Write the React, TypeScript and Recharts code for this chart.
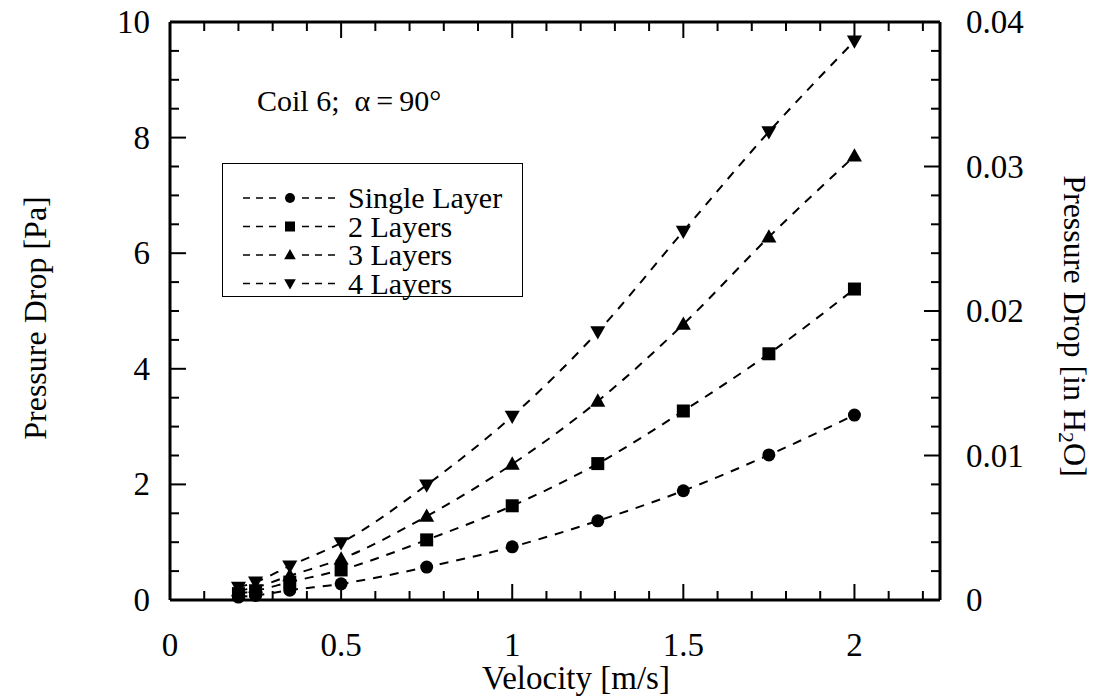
import { LineChart, Line, XAxis, YAxis, Legend } from "recharts";

const FONT = "'Liberation Serif', 'Times New Roman', serif";
const TICK_FS = 33;

// velocity [m/s] and pressure drop [Pa]
const velocity = [0.2, 0.25, 0.35, 0.5, 0.75, 1, 1.25, 1.5, 1.75, 2];
const singleLayer = [0.05, 0.08, 0.17, 0.28, 0.57, 0.92, 1.37, 1.89, 2.51, 3.2];
const twoLayers = [0.11, 0.16, 0.31, 0.52, 1.04, 1.63, 2.36, 3.27, 4.26, 5.38];
const threeLayers = [0.16, 0.22, 0.42, 0.71, 1.45, 2.35, 3.44, 4.77, 6.28, 7.68];
const fourLayers = [0.22, 0.31, 0.59, 0.99, 1.99, 3.18, 4.64, 6.38, 8.1, 9.67];

// tick labels (majors), minors drawn in between
const xLabels = ["0", "0.5", "1", "1.5", "2"];
const yLeftLabels = ["0", "2", "4", "6", "8", "10"];
const yRightLabels = ["0", "0.01", "0.02", "0.03", "0.04"];

const steps = (n: number, step: number, digits: number) =>
  Array.from({ length: n }, (_, i) => Number((i * step).toFixed(digits)));
const xTicks = steps(23, 0.1, 1); // major every 5th
const yLeftTicks = steps(21, 0.5, 1); // major every 4th
const yRightTicks = steps(21, 0.002, 3); // major every 5th

const data = velocity.map((v, i) => ({
  v,
  single: singleLayer[i],
  two: twoLayers[i],
  three: threeLayers[i],
  four: fourLayers[i],
}));

const MAJ = 16;
const MIN = 9;

const BottomTick = (p: any) => {
  const major = p.index % 5 === 0;
  return (
    <g>
      <line x1={p.x} x2={p.x} y1={p.y} y2={p.y - (major ? MAJ : MIN)} stroke="#000" strokeWidth={2} />
      {major && (
        <text x={p.x} y={p.y + 56} textAnchor="middle" fontSize={TICK_FS} fontFamily={FONT} fill="#000">
          {xLabels[p.index / 5]}
        </text>
      )}
    </g>
  );
};

const TopTick = (p: any) => {
  const major = p.index % 5 === 0;
  return <line x1={p.x} x2={p.x} y1={p.y} y2={p.y + (major ? MAJ : MIN)} stroke="#000" strokeWidth={2} />;
};

const LeftTick = (p: any) => {
  const major = p.index % 4 === 0;
  return (
    <g>
      <line x1={p.x} x2={p.x + (major ? MAJ : MIN)} y1={p.y} y2={p.y} stroke="#000" strokeWidth={2} />
      {major && (
        <text x={p.x - 20} y={p.y + 11} textAnchor="end" fontSize={TICK_FS} fontFamily={FONT} fill="#000">
          {yLeftLabels[p.index / 4]}
        </text>
      )}
    </g>
  );
};

const RightTick = (p: any) => {
  const major = p.index % 5 === 0;
  return (
    <g>
      <line x1={p.x} x2={p.x - (major ? MAJ : MIN)} y1={p.y} y2={p.y} stroke="#000" strokeWidth={2} />
      {major && (
        <text x={p.x + 26} y={p.y + 11} textAnchor="start" fontSize={TICK_FS} fontFamily={FONT} fill="#000">
          {yRightLabels[p.index / 5]}
        </text>
      )}
    </g>
  );
};

const marker = (kind: string, cx: number, cy: number, s: number, key?: string) => {
  if (kind === "circle") return <circle key={key} cx={cx} cy={cy} r={s * 0.5} fill="#000" />;
  if (kind === "square")
    return <rect key={key} x={cx - s / 2} y={cy - s / 2} width={s} height={s} fill="#000" />;
  if (kind === "up")
    return (
      <polygon
        key={key}
        points={`${cx},${cy - s * 0.6} ${cx - s * 0.58},${cy + s * 0.42} ${cx + s * 0.58},${cy + s * 0.42}`}
        fill="#000"
      />
    );
  return (
    <polygon
      key={key}
      points={`${cx},${cy + s * 0.6} ${cx - s * 0.58},${cy - s * 0.42} ${cx + s * 0.58},${cy - s * 0.42}`}
      fill="#000"
    />
  );
};

const series = [
  { key: "single", name: "Single Layer", kind: "circle" },
  { key: "two", name: "2 Layers", kind: "square" },
  { key: "three", name: "3 Layers", kind: "up" },
  { key: "four", name: "4 Layers", kind: "down" },
];

const LegendBox = () => (
  <div
    style={{
      width: 301,
      height: 134,
      border: "1.5px solid #000",
      boxSizing: "border-box",
      background: "#fff",
    }}
  >
    <svg width={298} height={131} style={{ overflow: "visible" }}>
      {series.map((s, i) => {
        const y = 34 + i * 28.5;
        return (
          <g key={s.key}>
            <line x1={20} x2={55} y1={y} y2={y} stroke="#000" strokeWidth={1.5} strokeDasharray="7 6" />
            <line x1={79} x2={115} y1={y} y2={y} stroke="#000" strokeWidth={1.5} strokeDasharray="7 6" />
            {marker(s.kind, 67, y, 10)}
            <text x={125} y={y + 10} fontSize={30} fontFamily={FONT} fill="#000">
              {s.name}
            </text>
          </g>
        );
      })}
    </svg>
  </div>
);

export default function App() {
  return (
    <div style={{ position: "absolute", left: 0, top: 0, width: 1099, height: 696, background: "#fff" }}>
      <LineChart width={1099} height={696} data={data} margin={{ top: 21, left: 169, right: 158, bottom: 95 }}>
        <XAxis
          xAxisId="b"
          dataKey="v"
          type="number"
          domain={[0, 2.25]}
          ticks={xTicks}
          interval={0}
          height={1}
          tickSize={0}
          tickMargin={0}
          tickLine={false}
          axisLine={{ stroke: "#000", strokeWidth: 3 }}
          tick={BottomTick}
        />
        <XAxis
          xAxisId="t"
          orientation="top"
          dataKey="v"
          type="number"
          domain={[0, 2.25]}
          ticks={xTicks}
          interval={0}
          height={1}
          tickSize={0}
          tickMargin={0}
          tickLine={false}
          axisLine={{ stroke: "#000", strokeWidth: 3 }}
          tick={TopTick}
        />
        <YAxis
          yAxisId="l"
          type="number"
          domain={[0, 10]}
          ticks={yLeftTicks}
          interval={0}
          width={1}
          tickSize={0}
          tickMargin={0}
          tickLine={false}
          axisLine={{ stroke: "#000", strokeWidth: 3 }}
          tick={LeftTick}
        />
        <YAxis
          yAxisId="r"
          orientation="right"
          type="number"
          dataKey="single"
          domain={[0, 0.04]}
          allowDataOverflow
          ticks={yRightTicks}
          interval={0}
          width={1}
          tickSize={0}
          tickMargin={0}
          tickLine={false}
          axisLine={{ stroke: "#000", strokeWidth: 3 }}
          tick={RightTick}
        />
        {series.map((s) => (
          <Line
            key={s.key}
            xAxisId="b"
            yAxisId="l"
            dataKey={s.key}
            name={s.name}
            type="monotone"
            stroke="#000"
            strokeWidth={2}
            strokeDasharray="9 8"
            isAnimationActive={false}
            dot={(p: any) => marker(s.kind, p.cx, p.cy, 13, `${s.key}-${p.index}`)}
            activeDot={false}
          />
        ))}
        <Legend
          layout="horizontal"
          verticalAlign="middle"
          align="center"
          content={LegendBox}
          wrapperStyle={{ position: "absolute", left: 222, top: 163, width: 301, height: 134 }}
        />
      </LineChart>
      <svg
        width={1099}
        height={696}
        style={{ position: "absolute", left: 0, top: 0, pointerEvents: "none" }}
        fontFamily={FONT}
      >
        <text x={257} y={111} fontSize={30} style={{ whiteSpace: "pre" }}>
          {"Coil 6;  \u03B1\u2009=\u200990\u00B0"}
        </text>
        <text x={576} y={689} fontSize={33} textAnchor="middle">
          Velocity [m/s]
        </text>
        <text
          x={35}
          y={318}
          fontSize={32}
          textAnchor="middle"
          dominantBaseline="central"
          transform="rotate(-90 35 318)"
        >
          Pressure Drop [Pa]
        </text>
        <text
          x={1075}
          y={326}
          fontSize={32}
          textAnchor="middle"
          dominantBaseline="central"
          transform="rotate(90 1075 326)"
        >
          Pressure Drop [in H
          <tspan dy={8} fontSize={22}>
            2
          </tspan>
          <tspan dy={-8}>O]</tspan>
        </text>
      </svg>
    </div>
  );
}
